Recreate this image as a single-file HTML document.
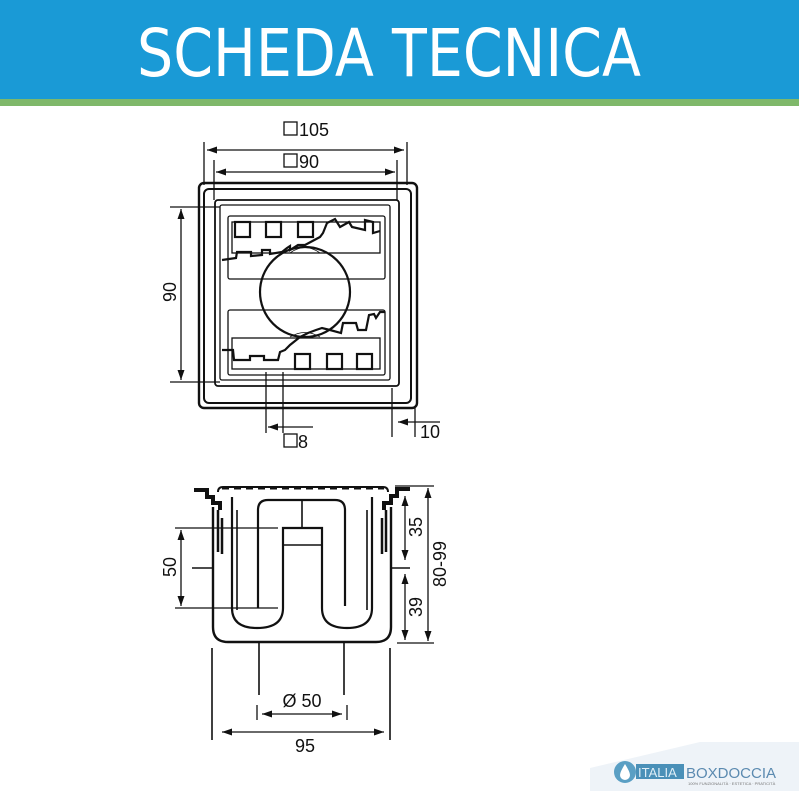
<!DOCTYPE html>
<html><head><meta charset="utf-8"><style>
html,body{margin:0;padding:0;background:#fff;}
svg{display:block}
text{font-family:"Liberation Sans",sans-serif;fill:#111}
</style></head><body>
<svg width="799" height="791" viewBox="0 0 799 791" xmlns="http://www.w3.org/2000/svg">
<defs>
<marker id="a" viewBox="0 0 10 10" refX="10" refY="5" markerWidth="11" markerHeight="10" orient="auto-start-reverse" markerUnits="userSpaceOnUse"><path d="M0,1.5 L10,5 L0,8.5 Z" fill="#111"/></marker>
</defs>
<rect x="0" y="0" width="799" height="101" fill="#1a9ad6"/>
<rect x="0" y="99" width="799" height="7" fill="#7fb86a"/>
<text x="137" y="76" textLength="504" lengthAdjust="spacingAndGlyphs" style="font-family:'DejaVu Sans',sans-serif;font-size:66px;fill:#fff">SCHEDA TECNICA</text>

<g fill="none" stroke="#111" stroke-width="1.3">
<rect x="199" y="183" width="218" height="225" rx="5" stroke-width="2.4"/>
<rect x="204" y="189" width="207" height="214" rx="5" stroke-width="2"/>
<rect x="215" y="200" width="184" height="186" rx="3" stroke-width="1.8"/>
<rect x="220" y="205" width="170" height="175" rx="2"/>
<rect x="228" y="216" width="157" height="63" rx="2"/>
<rect x="232" y="222" width="148" height="31"/>
<rect x="228" y="310" width="157" height="65" rx="2"/>
<rect x="232" y="338" width="148" height="31"/>
<circle cx="305" cy="292" r="45" stroke-width="2.2"/>
<path d="M290,253 Q305,242 320,253 M290,337 Q305,328 320,337" stroke-width="0.8"/>
<g stroke-width="2.2">
<rect x="235" y="222" width="15" height="15"/><rect x="266" y="222" width="15" height="15"/><rect x="298" y="222" width="15" height="15"/>
<rect x="295" y="354" width="15" height="15"/><rect x="327" y="354" width="15" height="15"/><rect x="357" y="354" width="15" height="15"/>
<path d="M222,260 L236,258 L237,252 L251,252 L251,256 L262,255 L262,250 L270,250 L270,254 L282,252 L287,248 L290,246 L290,250 L298,245 L305,245 L320,237 L323,233 L327,223 L335,219 L340,227 L349,222 L352,227 L365,230 L365,220 L373,222 L373,233 L380,231"/>
<path d="M222,350 L233,350 L234,360 L250,360 L250,356 L264,356 L264,360 L278,360 L280,352 L285,350 L290,345 L300,337 L308,333 L316,330 L322,328 L330,330 L341,333 L343,323 L356,323 L358,330 L366,330 L369,315 L374,314 L376,318 L380,312 L385,312"/>
</g>
<path d="M204,142 V185 M407,142 V185 M214,160 V200 M397,160 V200"/>
<line x1="207" y1="150" x2="404" y2="150" marker-start="url(#a)" marker-end="url(#a)"/>
<line x1="216" y1="172" x2="395" y2="172" marker-start="url(#a)" marker-end="url(#a)"/>
<path d="M170,207 H220 M170,382 H220"/>
<line x1="181" y1="209" x2="181" y2="380" marker-start="url(#a)" marker-end="url(#a)"/>
<path d="M266,372 V433 M283,372 V433 M392,388 V437 M415,408 V437"/>
<line x1="313" y1="427" x2="268" y2="427" marker-end="url(#a)"/>
<line x1="440" y1="422" x2="398" y2="422" marker-end="url(#a)"/>
<rect x="284" y="122" width="13" height="13"/>
<rect x="284" y="154" width="13" height="13"/>
<rect x="284" y="434" width="13" height="13"/>

<path d="M213,507 V627 Q213,642 228,642 H376 Q391,642 391,627 V507" stroke-width="2.4"/>
<path d="M218,492 Q218,487 223,487 H383 Q388,487 388,492" stroke-width="2"/>
<path d="M222,488 H384" stroke-width="3" stroke-dasharray="7,5"/>
<path d="M194,490 H207 L207,497 L213,497 L213,503 L220,503 L220,510 M410,489 H397 L397,496 L391,496 L391,503 L384,503 L384,510" stroke-width="4"/>
<path d="M218,510 V552 M386,510 V552 M222,518 V554 M382,518 V554" stroke-width="2.5"/>
<path d="M232,497 V608 Q232,628 257,628 Q283,628 283,608 V528 H322 V608 Q322,628 347,628 Q372,628 372,608 V497" stroke-width="2.2"/>
<path d="M258,608 V510 Q258,500 268,500 H335 Q345,500 345,510 V606" stroke-width="2.2"/>
<path d="M302,500 V528 M283,545 H322 M237,510 V610 M367,510 V610" stroke-width="1.6"/>
<path d="M175,528 H278 M175,608 H278"/>
<line x1="181" y1="530" x2="181" y2="606" marker-start="url(#a)" marker-end="url(#a)"/>
<path d="M192,568 H213 M391,568 H410" stroke-width="1.6"/>
<path d="M395,486 H434 M397,643 H434"/>
<line x1="405" y1="496" x2="405" y2="560" marker-start="url(#a)" marker-end="url(#a)"/>
<line x1="405" y1="574" x2="405" y2="640" marker-start="url(#a)" marker-end="url(#a)"/>
<line x1="428" y1="488" x2="428" y2="641" marker-start="url(#a)" marker-end="url(#a)"/>
<path d="M259,642 V695 M344,642 V695 M212,648 V740 M390,648 V740" stroke-width="1.6"/>
<path d="M257,705 V720 M347,705 V720"/>
<line x1="262" y1="714" x2="342" y2="714" marker-start="url(#a)" marker-end="url(#a)"/>
<line x1="222" y1="732" x2="384" y2="732" marker-start="url(#a)" marker-end="url(#a)"/>
</g>

<g style="font-size:18px">
<text x="299" y="136">105</text>
<text x="299" y="168">90</text>
<text x="298" y="448">8</text>
<text x="420" y="438">10</text>
<text transform="translate(176,292) rotate(-90)" text-anchor="middle">90</text>
<text transform="translate(176,567) rotate(-90)" text-anchor="middle">50</text>
<text transform="translate(422,527) rotate(-90)" text-anchor="middle">35</text>
<text transform="translate(422,607) rotate(-90)" text-anchor="middle">39</text>
<text transform="translate(446,564) rotate(-90)" text-anchor="middle">80-99</text>
<text x="302" y="707" text-anchor="middle">Ø 50</text>
<text x="305" y="752" text-anchor="middle">95</text>
</g>

<path d="M590,768 L700,742 L799,742 L799,791 L590,791 Z" fill="#eef3f8"/>
<circle cx="625" cy="772" r="11" fill="#5a9fc4"/>
<path d="M625,764 Q620,772 620,775 A5,5 0 0 0 630,775 Q630,772 625,764 Z" fill="#fff"/>
<rect x="636" y="764" width="48" height="15" fill="#4a90b8"/>
<text x="638" y="777" style="font-size:13px;fill:#dfeef7">ITALIA</text>
<text x="686" y="778" style="font-size:15px;fill:#5b8ab0">BOXDOCCIA</text>
<text x="688" y="785" style="font-size:4px;fill:#777">100% FUNZIONALITÀ · ESTETICA · PRATICITÀ</text>
</svg>
</body></html>
